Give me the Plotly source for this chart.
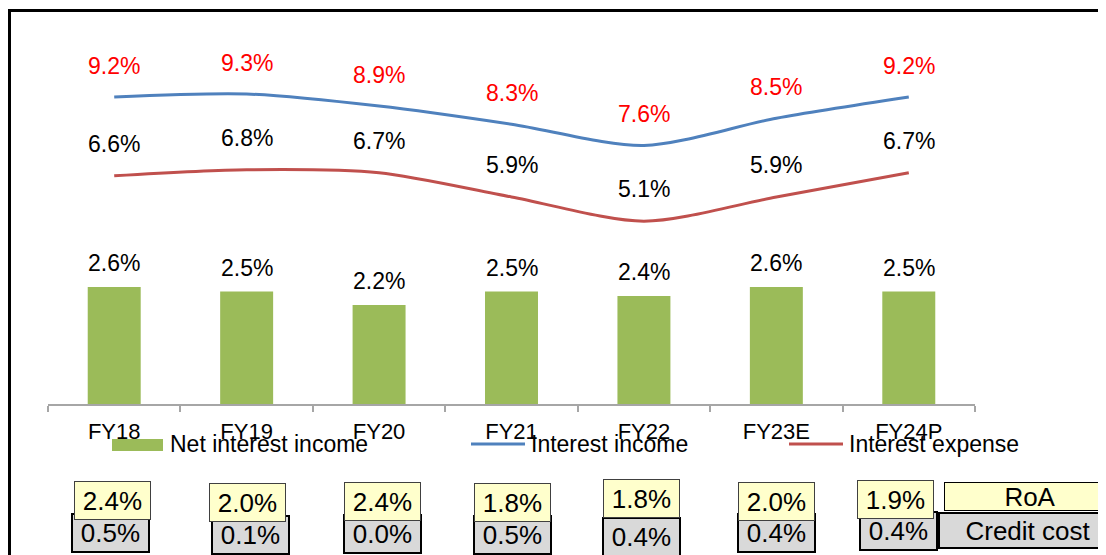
import plotly.graph_objects as go

categories = ["FY18", "FY19", "FY20", "FY21", "FY22", "FY23E", "FY24P"]
net_interest_income = [2.6, 2.5, 2.2, 2.5, 2.4, 2.6, 2.5]
interest_income = [9.2, 9.3, 8.9, 8.3, 7.6, 8.5, 9.2]
interest_expense = [6.6, 6.8, 6.7, 5.9, 5.1, 5.9, 6.7]
roa = [2.4, 2.0, 2.4, 1.8, 1.8, 2.0, 1.9]
credit_cost = [0.5, 0.1, 0.0, 0.5, 0.4, 0.4, 0.4]

OFF = 8  # page body margin
W, H = 1106 - OFF, 555 - OFF
L, R, T, B = 48, 975, 30, 404  # plot area in page pixels

def px(x):
    return (x - L) / (R - L)

def py(y):
    return (B - y) / (B - T)

FONT = "Arial, Liberation Sans, sans-serif"
GREEN = "#9bbb59"
BLUE = "#4f81bd"
RED = "#c0504d"

fig = go.Figure()
fig.add_trace(go.Bar(x=categories, y=net_interest_income, marker_color=GREEN,
                     marker_line_width=0, name="Net interest income", yaxis="y"))
fig.add_trace(go.Scatter(x=categories, y=interest_income, mode="lines",
                         line=dict(color=BLUE, width=3, shape="spline", smoothing=0.8),
                         name="Interest income", yaxis="y2"))
fig.add_trace(go.Scatter(x=categories, y=interest_expense, mode="lines",
                         line=dict(color=RED, width=3, shape="spline", smoothing=0.8),
                         name="Interest expense", yaxis="y2"))

ann = []
for c, v in zip(categories, net_interest_income):
    ann.append(dict(x=c, y=v, xref="x", yref="y", text=f"{v:.1f}%", showarrow=False,
                    yanchor="middle", yshift=24, font=dict(family=FONT, size=23, color="black")))
for c, v in zip(categories, interest_income):
    ann.append(dict(x=c, y=v, xref="x", yref="y2", text=f"{v:.1f}%", showarrow=False,
                    yanchor="middle", yshift=31, font=dict(family=FONT, size=23, color="#ff0000")))
for c, v in zip(categories, interest_expense):
    ann.append(dict(x=c, y=v, xref="x", yref="y2", text=f"{v:.1f}%", showarrow=False,
                    yanchor="middle", yshift=32, font=dict(family=FONT, size=23, color="black")))

# Custom legend
shapes = []
shapes.append(dict(type="rect", xref="paper", yref="paper", x0=px(112), x1=px(163),
                   y0=py(451), y1=py(439), fillcolor=GREEN, line_width=0))
shapes.append(dict(type="line", xref="paper", yref="paper", x0=px(471), x1=px(525),
                   y0=py(444), y1=py(444), line=dict(color=BLUE, width=3)))
shapes.append(dict(type="line", xref="paper", yref="paper", x0=px(789), x1=px(843),
                   y0=py(444), y1=py(444), line=dict(color=RED, width=3)))
for xs, txt in [(168, "Net interest income"), (529, "Interest income"), (847, "Interest expense")]:
    ann.append(dict(x=px(xs), y=py(444), xref="paper", yref="paper", text=txt, showarrow=False,
                    xanchor="left", yanchor="middle", font=dict(family=FONT, size=23, color="black")))

# Outer border
shapes.append(dict(type="rect", xref="paper", yref="paper", x0=px(9.5), x1=px(1200),
                   y0=py(700), y1=py(10.5), line=dict(color="black", width=3), fillcolor="rgba(0,0,0,0)"))

# RoA / credit cost boxes
cc_x = [110.5, 250, 382.5, 512, 641.5, 776.5, 898.5]
cc_y = [533, 535, 534, 535, 537, 533, 531]
roa_x = [112.5, 247, 382, 512, 641.5, 776.5, 895.5]
roa_y = [500.5, 502, 501, 502, 498.5, 501, 499.5]
for i, v in enumerate(credit_cost):
    ann.append(dict(x=px(cc_x[i]), y=py(cc_y[i]), xref="paper", yref="paper", text=f"{v:.1f}%",
                    showarrow=False, width=75, height=36, borderpad=0, bgcolor="#d9d9d9",
                    bordercolor="black", borderwidth=2, xanchor="center", yanchor="middle",
                    font=dict(family=FONT, size=26, color="black")))
for i, v in enumerate(roa):
    ann.append(dict(x=px(roa_x[i]), y=py(roa_y[i]), xref="paper", yref="paper", text=f"{v:.1f}%",
                    showarrow=False, width=75, height=37, borderpad=0, bgcolor="#ffffcc",
                    bordercolor="#404040", borderwidth=1, xanchor="center", yanchor="middle",
                    font=dict(family=FONT, size=26, color="black")))
ann.append(dict(x=px(938), y=py(530.5), xref="paper", yref="paper", text="Credit cost",
                showarrow=False, width=176, height=33, borderpad=0, bgcolor="#d9d9d9",
                bordercolor="black", borderwidth=2, xanchor="left", yanchor="middle",
                font=dict(family=FONT, size=26, color="black")))
ann.append(dict(x=px(944), y=py(497), xref="paper", yref="paper", text="RoA",
                showarrow=False, width=170, height=27, borderpad=0, bgcolor="#ffffcc",
                bordercolor="black", borderwidth=1, xanchor="left", yanchor="middle",
                font=dict(family=FONT, size=26, color="black")))

fig.update_layout(
    width=W, height=H,
    margin=dict(l=L - OFF, r=W - (R - OFF), t=T - OFF, b=H - (B - OFF), pad=0),
    paper_bgcolor="white", plot_bgcolor="white",
    showlegend=False, bargap=0.6,
    xaxis=dict(type="category", showline=True, linecolor="#a6a6a6", linewidth=1.5,
               ticks="outside", tickson="boundaries", ticklen=6, tickcolor="#a6a6a6",
               tickwidth=1.5, showgrid=False, zeroline=False, ticklabelstandoff=7,
               tickfont=dict(family=FONT, size=22, color="black")),
    yaxis=dict(range=[0, (B - T) / 45.0], visible=False, showgrid=False, zeroline=False),
    yaxis2=dict(range=[9.2 - (B - 97) / 30.3, 9.2 + (97 - T) / 30.3], overlaying="y",
                visible=False, showgrid=False, zeroline=False),
    annotations=ann, shapes=shapes,
)

fig.write_html("out.html")
